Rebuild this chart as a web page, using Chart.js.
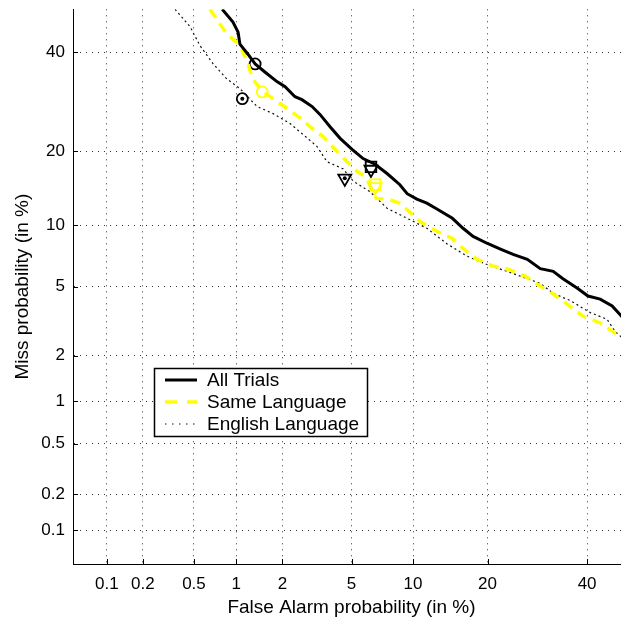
<!DOCTYPE html>
<html>
<head>
<meta charset="utf-8">
<script src="https://cdn.jsdelivr.net/npm/chart.js@4.4.0/dist/chart.umd.min.js"></script>
<style>
  html, body { margin: 0; padding: 0; background: #fff; overflow: hidden; }
  canvas { display: block; }
</style>
</head>
<body>
<canvas id="detChart" width="640" height="619"></canvas>
<script>
// tick positions (in %) on both axes
const tickPercents = [0.1, 0.2, 0.5, 1, 2, 5, 10, 20, 40];
const tickLabels = ["0.1", "0.2", "0.5", "1", "2", "5", "10", "20", "40"];

const seriesNames = ["All Trials", "Same Language", "English Language"];

// All Trials (false alarm %, miss %)
const allFA = [0.80, 0.95, 1.03, 1.06, 1.2, 1.34, 1.55, 1.85, 2.08, 2.39, 2.63, 3.02, 3.36, 3.82, 4.34, 5.03, 5.74, 6.6, 7.56, 8.7, 9.4, 10.4, 11.5, 12.7, 14.7, 16.2, 17.7, 19.9, 22.2, 24.5, 27.2, 29.8, 32.5, 34.6, 37.8, 40.2, 43.0, 45.8, 47.9, 50];
const allMiss = [50, 47, 44.6, 41.8, 39.5, 37.3, 35.5, 33.4, 32.3, 30.2, 29.6, 28.2, 26.6, 24.3, 22.2, 20.3, 18.8, 17.9, 16.5, 14.9, 13.7, 13.0, 12.5, 11.8, 10.75, 9.7, 8.9, 8.26, 7.74, 7.3, 6.9, 6.2, 6.0, 5.5, 4.9, 4.45, 4.28, 3.92, 3.45, 3.0];

// Same Language
const sameFA = [0.655, 0.86, 1.06, 1.2, 1.3, 1.51, 1.75, 2.14, 2.56, 2.94, 3.49, 4.08, 4.73, 5.35, 5.9, 6.2, 6.7, 7.65, 8.7, 10.75, 12.7, 14.7, 16.2, 18.3, 20.8, 23.6, 26.8, 29.8, 32.5, 35.5, 38.9, 43.0, 46.5, 47.9, 50];
const sameMiss = [50, 44.2, 41.6, 37.3, 33.8, 31.2, 29.8, 27.8, 26.0, 24.3, 22.5, 20.3, 18.3, 16.8, 16.1, 14.9, 13.1, 13.0, 12.5, 10.4, 9.4, 8.7, 7.8, 6.9, 6.4, 6.15, 5.67, 5.03, 4.56, 4.02, 3.45, 3.14, 2.74, 2.6, 2.4];

// English Language
const engFA = [0.36, 0.47, 0.55, 0.69, 0.86, 1.06, 1.38, 1.75, 2.23, 2.67, 3.22, 3.67, 4.5, 5.1, 6.2, 7.56, 9.4, 11.5, 14.0, 16.8, 19.9, 23.4, 27.2, 29.8, 32.5, 36.2, 40.7, 44.6, 46.5, 47.9, 50];
const engMiss = [50, 45.8, 41.6, 37.3, 34.0, 31.9, 28.2, 26.8, 24.9, 22.9, 20.8, 18.3, 17.2, 15.4, 14.0, 11.9, 10.75, 9.7, 8.2, 7.15, 6.5, 6.0, 5.5, 5.2, 4.6, 4.2, 3.6, 3.3, 2.8, 2.6, 2.4];

// operating point markers (All, Same, English)
const circleFA = [1.34, 1.49, 1.10];
const circleMiss = [37.3, 31.2, 29.8];
const squareFA = [6.3, 6.6];
const squareMiss = [17.5, 14.9];
const triangleFA = [6.3, 6.6, 4.6];
const triangleMiss = [17.1, 14.6, 15.8];
const dotFA = [1.10, 4.6];
const dotMiss = [29.8, 15.8];

const BLACK = "#000000";
const YELLOW = "#ffff00";
const FONT = "'Liberation Sans', Arial, Helvetica, sans-serif";

// inverse normal cdf (Acklam)
function probit(p) {
  const a = [-39.69683028665376, 220.9460984245205, -275.9285104469687, 138.3577518672690, -30.66479806614716, 2.506628277459239];
  const b = [-54.47609879822406, 161.5858368580409, -155.6989798598866, 66.80131188771972, -13.28068155288572];
  const c = [-0.007784894002430293, -0.3223964580411365, -2.400758277161838, -2.549732539343734, 4.374664141464968, 2.938163982698783];
  const d = [0.007784695709041462, 0.3224671290700398, 2.445134137142996, 3.754408661907416];
  const pl = 0.02425;
  let q, r;
  if (p < pl) {
    q = Math.sqrt(-2 * Math.log(p));
    return (((((c[0]*q+c[1])*q+c[2])*q+c[3])*q+c[4])*q+c[5]) / ((((d[0]*q+d[1])*q+d[2])*q+d[3])*q+1);
  }
  if (p <= 1 - pl) {
    q = p - 0.5; r = q * q;
    return (((((a[0]*r+a[1])*r+a[2])*r+a[3])*r+a[4])*r+a[5])*q / (((((b[0]*r+b[1])*r+b[2])*r+b[3])*r+b[4])*r+1);
  }
  q = Math.sqrt(-2 * Math.log(1 - p));
  return -(((((c[0]*q+c[1])*q+c[2])*q+c[3])*q+c[4])*q+c[5]) / ((((d[0]*q+d[1])*q+d[2])*q+d[3])*q+1);
}

const toPoints = (fa, miss) => fa.map((f, i) => ({ x: probit(f / 100), y: probit(miss[i] / 100) }));

// ticks inside the box + legend
const detExtras = {
  id: "detExtras",
  afterDraw(chart) {
    const ctx = chart.ctx;
    const area = chart.chartArea;
    const xs = chart.scales.x, ys = chart.scales.y;
    ctx.save();
    ctx.strokeStyle = BLACK;
    ctx.lineWidth = 1;
    ctx.beginPath();
    xs.ticks.forEach(t => {
      const px = Math.round(xs.getPixelForValue(t.value)) + 0.5;
      ctx.moveTo(px, area.bottom); ctx.lineTo(px, area.bottom - 5);
    });
    ys.ticks.forEach(t => {
      const py = Math.round(ys.getPixelForValue(t.value)) + 0.5;
      ctx.moveTo(area.left, py); ctx.lineTo(area.left + 5, py);
    });
    ctx.stroke();

    // legend
    ctx.fillStyle = "#fff";
    ctx.fillRect(154, 368, 214, 69);
    ctx.strokeStyle = BLACK;
    ctx.lineWidth = 1.5;
    ctx.strokeRect(154.5, 368.5, 213, 68);
    const legendDash = [[], [12, 10], [1.5, 5.5]];
    seriesNames.forEach((name, i) => {
      const ds = chart.data.datasets[i];
      const y = 380 + i * 22;
      ctx.beginPath();
      ctx.setLineDash(legendDash[i]);
      ctx.lineWidth = ds.borderWidth;
      ctx.strokeStyle = ds.borderColor;
      ctx.moveTo(165, y); ctx.lineTo(197, y);
      ctx.stroke();
      ctx.setLineDash([]);
      ctx.fillStyle = BLACK;
      ctx.font = "19px " + FONT;
      ctx.textBaseline = "middle";
      ctx.textAlign = "left";
      ctx.fillText(name, 207, y + 1);
    });
    ctx.restore();
  }
};

const axisCommon = (titleText, size) => ({
  type: "linear",
  min: probit(0.0005),
  max: 0,
  grid: { color: "rgba(0,0,0,0.8)", lineWidth: 1, drawTicks: false },
  border: { display: true, color: BLACK, width: 1, dash: [1, 5] },
  title: { display: true, text: titleText, color: BLACK, font: { family: FONT, size: 19 }, padding: { top: 0, bottom: 0 } },
  afterBuildTicks: (scale) => {
    scale.ticks = tickPercents.map(p => ({ value: probit(p / 100) }));
  },
  afterFit: (scale) => {
    if (scale.isHorizontal()) { scale.height = size; scale.paddingLeft = 0; scale.paddingRight = 0; }
    else { scale.width = size; scale.paddingTop = 0; scale.paddingBottom = 0; }
  },
  ticks: {
    color: BLACK,
    font: { family: FONT, size: 17 },
    autoSkip: false,
    maxRotation: 0,
    callback: (value, index) => tickLabels[index]
  }
});

const xAxis = axisCommon("False Alarm probability (in %)", 55);
xAxis.ticks.padding = 10;
const yAxis = axisCommon("Miss probability (in %)", 73);
yAxis.ticks.padding = 8;
yAxis.title.padding = { top: 11, bottom: 0 };

new Chart(document.getElementById("detChart"), {
  type: "scatter",
  data: {
    datasets: [
      { label: seriesNames[0], data: toPoints(allFA, allMiss), showLine: true, borderColor: BLACK, borderWidth: 3, pointRadius: 0, tension: 0 },
      { label: seriesNames[1], data: toPoints(sameFA, sameMiss), showLine: true, borderColor: YELLOW, borderWidth: 3.5, borderDash: [10, 7], pointRadius: 0, tension: 0 },
      { label: seriesNames[2], data: toPoints(engFA, engMiss), showLine: true, borderColor: "#111", borderWidth: 1.2, borderDash: [2, 3], pointRadius: 0, tension: 0 },
      { label: "circles", data: toPoints(circleFA, circleMiss), pointStyle: "circle", pointRadius: 5.5, pointBorderWidth: 1.8,
        pointBorderColor: [BLACK, YELLOW, BLACK], pointBackgroundColor: "rgba(0,0,0,0)" },
      { label: "squares", data: toPoints(squareFA, squareMiss), pointStyle: "rect", pointRadius: 7.5, pointBorderWidth: 1.8,
        pointBorderColor: [BLACK, YELLOW], pointBackgroundColor: "rgba(0,0,0,0)" },
      { label: "triangles", data: toPoints(triangleFA, triangleMiss), pointStyle: "triangle", pointRotation: 180, pointRadius: 7.5, pointBorderWidth: 1.8,
        pointBorderColor: [BLACK, YELLOW, BLACK], pointBackgroundColor: "rgba(0,0,0,0)" },
      { label: "dots", data: toPoints(dotFA, dotMiss), pointStyle: "circle", pointRadius: 2, pointBorderWidth: 0,
        pointBackgroundColor: BLACK }
    ]
  },
  options: {
    responsive: false,
    animation: false,
    layout: { padding: { top: 8, right: 10, left: 0, bottom: 0 } },
    plugins: { legend: { display: false }, tooltip: { enabled: false } },
    scales: { x: xAxis, y: yAxis }
  },
  plugins: [detExtras]
});
</script>
</body>
</html>
